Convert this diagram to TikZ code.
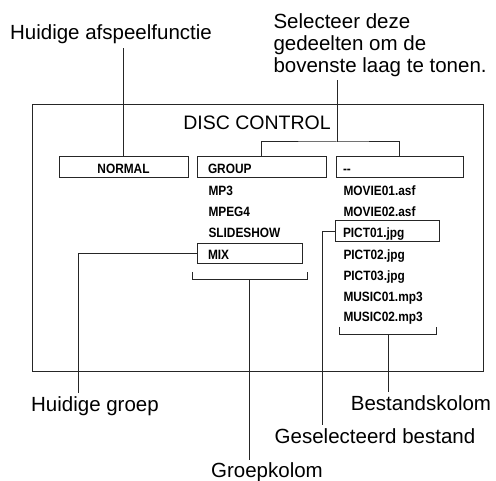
\documentclass[tikz,border=0pt]{standalone}
\usepackage{fontspec}
\setmainfont{Liberation Sans}
\newfontfamily\condfont{Liberation Sans}[FakeStretch=0.88]
\usetikzlibrary{positioning}

\begin{document}
\begin{tikzpicture}[x=1pt,y=-1pt,line width=1pt,
  font=\fontsize{20.5}{22}\selectfont,
  lead/.style={black!85,line width=1pt},
  callout/.style={anchor=base,inner sep=3pt},
  entry/.style={font=\condfont\bfseries\fontsize{13.5}{15}\selectfont,anchor=base west,inner sep=0pt},
  listbox/.style={draw=black!85,minimum height=21pt,inner ysep=0pt,align=left,
    text height=12pt,text depth=0pt,font=\condfont\bfseries\fontsize{13.5}{15}\selectfont}]
\useasboundingbox (0,0) rectangle (496,481);
% screen
\draw[lead] (32,105) rectangle (483,372);
\node[anchor=base,inner sep=0pt,font=\fontsize{19.5}{22}\selectfont] (title) at (257,130) {DISC CONTROL};
% boxes on the top row
\node[listbox,minimum width=129pt,align=center] (normal) at (123.5,167.5) {NORMAL};
\node[listbox,text width=107pt,inner xsep=11pt] (group) at (261.5,167.5) {GROUP};
\node[listbox,text width=113pt,inner xsep=7pt] (dash) at (399.5,167.5) {--};
% group column
\node[entry] (mp3) at (208,196) {MP3};
\node[entry] (mpeg) at (208,217) {MPEG4};
\node[entry] (slide) at (208,238) {SLIDESHOW};
\node[listbox,text width=83pt,inner xsep=11pt,minimum height=20pt] (mix) at (249.5,254) {MIX};
% file column
\node[entry] (mov1) at (343,196) {MOVIE01.asf};
\node[entry] (mov2) at (343,217) {MOVIE02.asf};
\node[listbox,text width=88pt,inner xsep=8pt] (pict1) at (387,231.5) {PICT01.jpg};
\node[entry] (pict2) at (343,260) {PICT02.jpg};
\node[entry] (pict3) at (343,281) {PICT03.jpg};
\node[entry] (mus1) at (343,302) {MUSIC01.mp3};
\node[entry] (mus2) at (343,322) {MUSIC02.mp3};
% callouts
\node[callout] (afsp) at (111,40) {Huidige afspeelfunctie};
\node[anchor=north west,align=left,inner sep=3pt,font=\fontsize{20.5}{22}\selectfont] (sel) at (270,10) {Selecteer deze\\gedeelten om de\\bovenste laag te tonen.};
\node[callout] (hgroep) at (95,411.5) {Huidige groep};
\node[callout] (groepk) at (267,478) {Groepkolom};
\node[callout] (gsel) at (375,443) {Geselecteerd bestand};
\node[callout] (bkol) at (421,410) {Bestandskolom};
% leaders
\draw[lead] (normal.north) -- (normal.north |- afsp.south);
\coordinate (selfoot) at (337,142);
\draw[lead] (group.north) |- (selfoot) -| (dash.north);
\draw[lead] (selfoot) -- (selfoot |- sel.south);
\coordinate (hgknee) at (78,254);
\draw[lead] (mix.west) -- (hgknee) -- (hgknee |- hgroep.north);
\coordinate (gbl) at (192,272);
\coordinate (gbr) at (307,272);
\coordinate (gmid) at (249,280);
\draw[lead] (gbl) -- ++(0,8) -| (gbr);
\draw[lead] (gmid) -- (gmid |- groepk.north);
\coordinate (gsknee) at (322,231.5);
\draw[lead] (pict1.west) -- (gsknee) -- (gsknee |- gsel.north);
\coordinate (fbl) at (339,327);
\coordinate (fbr) at (436,327);
\coordinate (fmid) at (388,335);
\draw[lead] (fbl) -- ++(0,8) -| (fbr);
\draw[lead] (fmid) -- (fmid |- bkol.north);
\end{tikzpicture}
\end{document}
